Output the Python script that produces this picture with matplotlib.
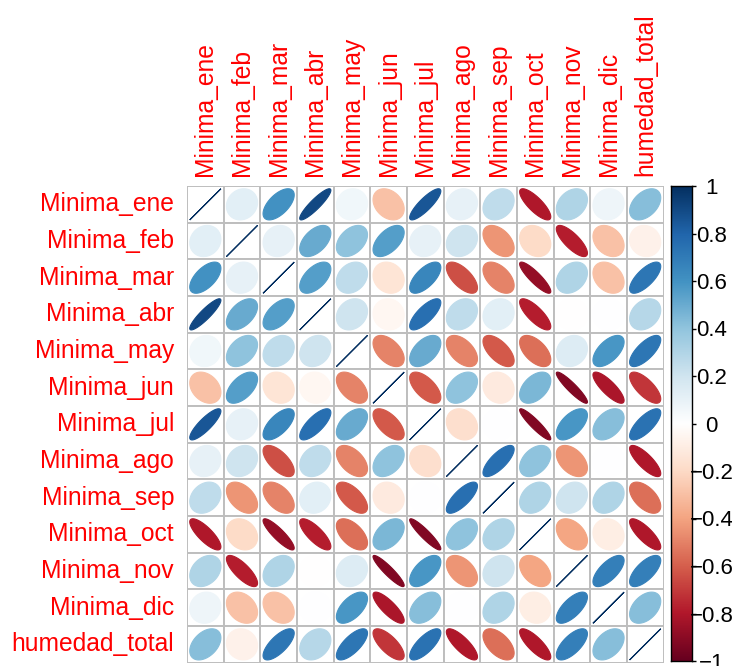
import numpy as np
import matplotlib
matplotlib.use("Agg")
import matplotlib.pyplot as plt
from matplotlib.colors import LinearSegmentedColormap
from matplotlib.patches import Polygon, Rectangle

plt.rcParams['font.family'] = ['Liberation Sans', 'DejaVu Sans']

labels = ["Minima_ene", "Minima_feb", "Minima_mar", "Minima_abr", "Minima_may",
          "Minima_jun", "Minima_jul", "Minima_ago", "Minima_sep", "Minima_oct",
          "Minima_nov", "Minima_dic", "humedad_total"]

# upper triangle of the correlation matrix (values to the right of the diagonal)
r_ene = [0.12, 0.60, 0.90, 0.06, -0.30, 0.85, 0.10, 0.25, -0.80, 0.30, 0.07, 0.42]
r_feb = [0.10, 0.50, 0.40, 0.55, 0.10, 0.20, -0.45, -0.20, -0.78, -0.30, -0.08]
r_mar = [0.55, 0.25, -0.15, 0.65, -0.65, -0.50, -0.88, 0.30, -0.30, 0.72]
r_abr = [0.20, -0.05, 0.75, 0.25, 0.12, -0.78, -0.01, 0.00, 0.28]
r_may = [-0.50, 0.50, -0.50, -0.62, -0.55, 0.15, 0.58, 0.72]
r_jun = [-0.62, 0.40, -0.12, 0.45, -0.92, -0.82, -0.72]
r_jul = [-0.18, 0.00, -0.92, 0.58, 0.42, 0.74]
r_ago = [0.75, 0.40, -0.45, 0.00, -0.80]
r_sep = [0.30, 0.20, 0.30, -0.55]
r_oct = [-0.40, -0.10, -0.80]
r_nov = [0.68, 0.68]
r_dic = [0.42]

upper = [r_ene, r_feb, r_mar, r_abr, r_may, r_jun, r_jul, r_ago, r_sep, r_oct, r_nov, r_dic]
n = len(labels)
corr = np.eye(n)
for i, row in enumerate(upper):
    for k, v in enumerate(row):
        j = i + 1 + k
        corr[i, j] = v
        corr[j, i] = v

cbar_ticks = [1, 0.8, 0.6, 0.4, 0.2, 0, -0.2, -0.4, -0.6, -0.8, -1]

cols = ["#67001F", "#B2182B", "#D6604D", "#F4A582", "#FDDBC7", "#FFFFFF",
        "#D1E5F0", "#92C5DE", "#4393C3", "#2166AC", "#053061"]
cmap = LinearSegmentedColormap.from_list("rdbu", cols, N=200)

W, H = 732, 666
fig = plt.figure(figsize=(W / 100, H / 100), dpi=100)

x0, x1 = 187, 663.5
y0, y1 = 186, 662.7
ax = fig.add_axes([x0 / W, 1 - y1 / H, (x1 - x0) / W, (y1 - y0) / H])
ax.set_xlim(0, n)
ax.set_ylim(0, n)
ax.axis('off')

k = np.linspace(0, 2 * np.pi, 99)
for i in range(n):
    for j in range(n):
        r = corr[i, j]
        cx = j + 0.5
        cy = n - i - 0.5
        ax.add_patch(Rectangle((j, n - i - 1), 1, 1, facecolor='white',
                               edgecolor='#BEBEBE', linewidth=1.4, zorder=1))
        d = np.arccos(np.clip(r, -1, 1))
        ex = 0.85 * np.cos(k + d / 2) / 2 + cx
        ey = 0.85 * np.cos(k - d / 2) / 2 + cy
        c = cmap((r + 1) / 2)
        ax.add_patch(Polygon(np.column_stack([ex, ey]), closed=True,
                             facecolor=c, edgecolor=c, linewidth=0.8, zorder=2))

fs = 17.7
for i, lab in enumerate(labels):
    ax.text(-13 / 36.67, n - i - 0.5, lab, color='#FF0000', fontsize=fs,
            ha='right', va='center')
    ax.text(i + 0.5, n + 10 / 36.67, lab, color='#FF0000', fontsize=fs,
            ha='center', va='bottom', rotation=90)

# colour legend
cx0, cx1 = 671, 692
cy0, cy1 = 186, 661
cax = fig.add_axes([cx0 / W, 1 - cy1 / H, (cx1 - cx0) / W, (cy1 - cy0) / H])
grad = np.linspace(-1, 1, 200).reshape(-1, 1)
cax.imshow(grad, aspect='auto', cmap=cmap, vmin=-1, vmax=1, origin='lower',
           extent=[0, 1, -1, 1])
cax.set_xlim(0, 1)
cax.set_ylim(-1, 1)
cax.set_xticks([])
cax.yaxis.tick_right()
cax.set_yticks(cbar_ticks)
cax.set_yticklabels([("%g" % t).replace("-", "\u2212") for t in cbar_ticks],
                    fontsize=16, ha='center')
cax.tick_params(axis='y', length=3, width=1, pad=11, colors='black')
for s in cax.spines.values():
    s.set_linewidth(1)
    s.set_color('black')

fig.savefig("out.png", dpi=100)
